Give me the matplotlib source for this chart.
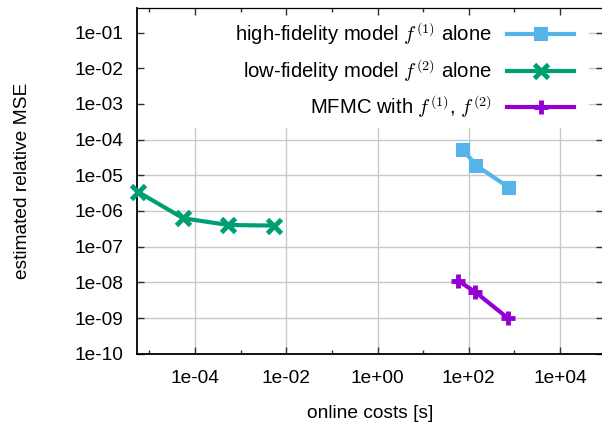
import matplotlib
matplotlib.use("Agg")
import matplotlib.pyplot as plt
from matplotlib.patches import Rectangle
from matplotlib.ticker import FixedLocator, FixedFormatter, NullFormatter

plt.rcParams['font.family'] = ['Liberation Sans', 'DejaVu Sans']
plt.rcParams['mathtext.fontset'] = 'cm'

# data
hf_cost = [75, 147, 753]
hf_mse = [5.1e-5, 1.87e-5, 4.55e-6]
lf_cost = [5.6e-6, 5.5e-5, 5.4e-4, 5.3e-3]
lf_mse = [3.45e-6, 6.25e-7, 4.05e-7, 3.9e-7]
mfmc_cost = [59, 135, 727]
mfmc_mse = [1.09e-8, 5.5e-9, 9.8e-10]

labels = [r"high-fidelity model $f^{(1)}$ alone",
          r"low-fidelity model $f^{(2)}$ alone",
          r"MFMC with $f^{(1)}$, $f^{(2)}$"]

xticks = [1e-4, 1e-2, 1e0, 1e2, 1e4]
xticklabels = ["1e-04", "1e-02", "1e+00", "1e+02", "1e+04"]
xminor = [1e-5, 1e-3, 1e-1, 1e1, 1e3]
yticks = [1e-1, 1e-2, 1e-3, 1e-4, 1e-5, 1e-6, 1e-7, 1e-8, 1e-9, 1e-10]
yticklabels = ["1e-01", "1e-02", "1e-03", "1e-04", "1e-05", "1e-06",
               "1e-07", "1e-08", "1e-09", "1e-10"]

xlim = (5.35e-6, 8.7e4)
ylim = (1e-10, 0.48)

FS = 13.8
LFS = 14.6

W, H = 602, 425
fig = plt.figure(figsize=(W / 100, H / 100), dpi=100)
pos = [137 / W, 1 - 353.7 / H, (603 - 137) / W, (353.7 - 8.3) / H]

# background axes: grid only
axg = fig.add_axes(pos)
axg.set_xscale('log'); axg.set_yscale('log')
axg.set_xlim(*xlim); axg.set_ylim(*ylim)
axg.xaxis.set_major_locator(FixedLocator(xticks))
axg.xaxis.set_minor_locator(FixedLocator([]))
axg.yaxis.set_major_locator(FixedLocator(yticks))
axg.yaxis.set_minor_locator(FixedLocator([]))
axg.grid(True, color='#c8c8c8', lw=1.0)
axg.tick_params(length=0, labelleft=False, labelbottom=False)
for s in axg.spines.values():
    s.set_visible(False)

ax = fig.add_axes(pos)
ax.patch.set_visible(False)
ax.set_xscale('log'); ax.set_yscale('log')
ax.set_xlim(*xlim); ax.set_ylim(*ylim)

# white legend area covering grid
ax.add_patch(Rectangle((0, 1 - (128 - 8.3) / (353.7 - 8.3)), (589 - 137) / (603 - 137),
                       (128 - 8.3) / (353.7 - 8.3), transform=ax.transAxes,
                       facecolor='white', edgecolor='none', zorder=1))

l1, = ax.plot(hf_cost, hf_mse, color='#56B4E9', lw=3, marker='s', ms=8.5,
              mew=1.5, zorder=3, clip_on=False)
l2, = ax.plot(lf_cost, lf_mse, color='#009E73', lw=3, marker='x', ms=10,
              mew=3.5, zorder=3, clip_on=False)
l3, = ax.plot(mfmc_cost, mfmc_mse, color='#9400D3', lw=3, marker='+', ms=10,
              mew=3.5, zorder=3, clip_on=False)

ax.xaxis.set_major_locator(FixedLocator(xticks))
ax.xaxis.set_major_formatter(FixedFormatter(xticklabels))
ax.xaxis.set_minor_locator(FixedLocator(xminor))
ax.xaxis.set_minor_formatter(NullFormatter())
ax.yaxis.set_major_locator(FixedLocator(yticks))
ax.yaxis.set_major_formatter(FixedFormatter(yticklabels))
ax.yaxis.set_minor_locator(FixedLocator([]))
ax.tick_params(which='both', direction='in', top=True, right=True,
               labelsize=FS, width=1.0, color='#303030')
ax.tick_params(which='major', length=5, pad=10)
ax.tick_params(which='minor', length=3)
ax.tick_params(axis='x', pad=12)
for s in ['left', 'bottom']:
    ax.spines[s].set_linewidth(1.3)
ax.spines['top'].set_linewidth(0.9)
ax.spines['right'].set_visible(False)

ax.set_xlabel("online costs [s]", fontsize=FS, labelpad=13)
ax.set_ylabel("estimated relative MSE", fontsize=FS, labelpad=31)

leg = ax.legend([l1, l2, l3], labels, loc='upper right',
                bbox_to_anchor=(574 / W, 1 - 20 / H), bbox_transform=fig.transFigure,
                frameon=False, markerfirst=False, fontsize=LFS,
                handlelength=3.3, handletextpad=0.75, labelspacing=0.48,
                borderpad=0, borderaxespad=0)
leg.set_zorder(4)

fig.savefig("out.png", dpi=100)
